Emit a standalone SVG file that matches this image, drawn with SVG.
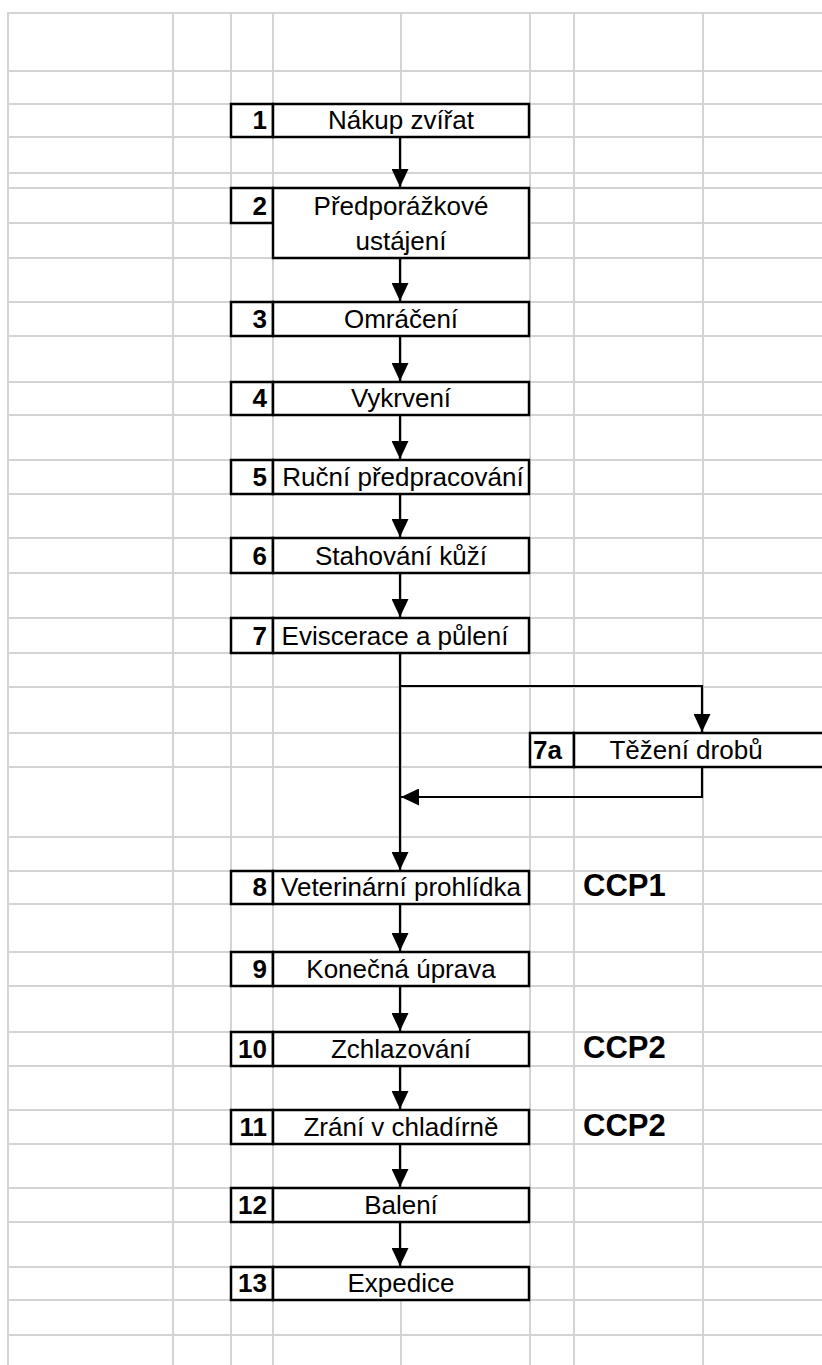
<svg xmlns="http://www.w3.org/2000/svg" width="822" height="1365" viewBox="0 0 822 1365">
<style>
.grid line{stroke:#d4d4d4;stroke-width:2}
.box{fill:#fff;stroke:#000;stroke-width:2.5}
.t{font-family:"Liberation Sans",Arial,sans-serif;font-size:26px;fill:#000;text-anchor:middle}
.n{font-family:"Liberation Sans",Arial,sans-serif;font-size:26px;font-weight:bold;fill:#000;text-anchor:end}
.ccp{font-family:"Liberation Sans",Arial,sans-serif;font-size:31px;font-weight:bold;fill:#000}
.conn path{fill:none;stroke:#000;stroke-width:2.2;marker-end:url(#ah)}
</style>
<defs>
<marker id="ah" markerUnits="userSpaceOnUse" markerWidth="18" markerHeight="17" viewBox="0 0 18 17" refX="18" refY="8.5" orient="auto">
<path d="M0,0 L18,8.5 L0,17 z" fill="#000"/>
</marker>
</defs>
<rect width="822" height="1365" fill="#fff"/>
<g class="grid">
<line x1="8" y1="13" x2="8" y2="1365"/>
<line x1="173" y1="13" x2="173" y2="1365"/>
<line x1="231" y1="13" x2="231" y2="1365"/>
<line x1="273" y1="13" x2="273" y2="1365"/>
<line x1="401" y1="13" x2="401" y2="1365"/>
<line x1="530" y1="13" x2="530" y2="1365"/>
<line x1="574" y1="13" x2="574" y2="1365"/>
<line x1="703" y1="13" x2="703" y2="1365"/>
<line x1="7" y1="13" x2="822" y2="13"/>
<line x1="7" y1="71" x2="822" y2="71"/>
<line x1="7" y1="104" x2="822" y2="104"/>
<line x1="7" y1="137" x2="822" y2="137"/>
<line x1="7" y1="173" x2="822" y2="173"/>
<line x1="7" y1="188" x2="822" y2="188"/>
<line x1="7" y1="223" x2="822" y2="223"/>
<line x1="7" y1="258" x2="822" y2="258"/>
<line x1="7" y1="302" x2="822" y2="302"/>
<line x1="7" y1="336" x2="822" y2="336"/>
<line x1="7" y1="382" x2="822" y2="382"/>
<line x1="7" y1="415" x2="822" y2="415"/>
<line x1="7" y1="460" x2="822" y2="460"/>
<line x1="7" y1="494" x2="822" y2="494"/>
<line x1="7" y1="538" x2="822" y2="538"/>
<line x1="7" y1="573" x2="822" y2="573"/>
<line x1="7" y1="618" x2="822" y2="618"/>
<line x1="7" y1="653" x2="822" y2="653"/>
<line x1="7" y1="687" x2="822" y2="687"/>
<line x1="7" y1="733" x2="822" y2="733"/>
<line x1="7" y1="767" x2="822" y2="767"/>
<line x1="7" y1="837" x2="822" y2="837"/>
<line x1="7" y1="871" x2="822" y2="871"/>
<line x1="7" y1="904" x2="822" y2="904"/>
<line x1="7" y1="952" x2="822" y2="952"/>
<line x1="7" y1="986" x2="822" y2="986"/>
<line x1="7" y1="1032" x2="822" y2="1032"/>
<line x1="7" y1="1066" x2="822" y2="1066"/>
<line x1="7" y1="1110" x2="822" y2="1110"/>
<line x1="7" y1="1144" x2="822" y2="1144"/>
<line x1="7" y1="1188" x2="822" y2="1188"/>
<line x1="7" y1="1222" x2="822" y2="1222"/>
<line x1="7" y1="1267" x2="822" y2="1267"/>
<line x1="7" y1="1300" x2="822" y2="1300"/>
<line x1="7" y1="1335" x2="822" y2="1335"/>
</g>
<g id="connectors" class="conn">
<path d="M400,137 V187"/>
<path d="M400,258 V301"/>
<path d="M400,336 V381"/>
<path d="M400,415 V459"/>
<path d="M400,494 V537"/>
<path d="M400,573 V617"/>
<path d="M400,653 V870"/>
<path d="M400,686 H702 V732"/>
<path d="M702,767 V797 H401"/>
<path d="M400,904 V951"/>
<path d="M400,986 V1031"/>
<path d="M400,1066 V1109"/>
<path d="M400,1144 V1187"/>
<path d="M400,1222 V1266"/>
</g>
<g id="node1"><rect class="box" x="231" y="104" width="42" height="33"/><rect class="box" x="273" y="104" width="256" height="33"/><text class="n" x="267" y="129">1</text><text class="t" x="401" y="129">Nákup zvířat</text></g>
<g id="node2"><rect class="box" x="231" y="188" width="42" height="35"/><rect class="box" x="273" y="188" width="256" height="70"/><text class="n" x="267" y="215">2</text><text class="t" x="401" y="215">Předporážkové</text><text class="t" x="401" y="250">ustájení</text></g>
<g id="node3"><rect class="box" x="231" y="302" width="42" height="34"/><rect class="box" x="273" y="302" width="256" height="34"/><text class="n" x="267" y="328">3</text><text class="t" x="401" y="328">Omráčení</text></g>
<g id="node4"><rect class="box" x="231" y="382" width="42" height="33"/><rect class="box" x="273" y="382" width="256" height="33"/><text class="n" x="267" y="407">4</text><text class="t" x="401" y="407">Vykrvení</text></g>
<g id="node5"><rect class="box" x="231" y="460" width="42" height="34"/><rect class="box" x="273" y="460" width="256" height="34"/><text class="n" x="267" y="486">5</text><text class="t" x="403" y="486">Ruční předpracování</text></g>
<g id="node6"><rect class="box" x="231" y="538" width="42" height="35"/><rect class="box" x="273" y="538" width="256" height="35"/><text class="n" x="267" y="565">6</text><text class="t" x="401" y="565">Stahování kůží</text></g>
<g id="node7"><rect class="box" x="231" y="618" width="42" height="35"/><rect class="box" x="273" y="618" width="256" height="35"/><text class="n" x="267" y="645">7</text><text class="t" x="395" y="645">Eviscerace a půlení</text></g>
<g id="node7a"><rect class="box" x="530" y="733" width="44" height="34"/><rect class="box" x="574" y="733" width="260" height="34"/><text class="n" x="533" y="759" style="text-anchor:start">7a</text><text class="t" x="686" y="759">Těžení drobů</text></g>
<g id="node8"><rect class="box" x="231" y="871" width="42" height="33"/><rect class="box" x="273" y="871" width="256" height="33"/><text class="n" x="267" y="896">8</text><text class="t" x="401" y="896">Veterinární prohlídka</text><text class="ccp" x="583" y="896">CCP1</text></g>
<g id="node9"><rect class="box" x="231" y="952" width="42" height="34"/><rect class="box" x="273" y="952" width="256" height="34"/><text class="n" x="267" y="978">9</text><text class="t" x="401" y="978">Konečná úprava</text></g>
<g id="node10"><rect class="box" x="231" y="1032" width="42" height="34"/><rect class="box" x="273" y="1032" width="256" height="34"/><text class="n" x="267" y="1058">10</text><text class="t" x="401" y="1058">Zchlazování</text><text class="ccp" x="583" y="1058">CCP2</text></g>
<g id="node11"><rect class="box" x="231" y="1110" width="42" height="34"/><rect class="box" x="273" y="1110" width="256" height="34"/><text class="n" x="267" y="1136">11</text><text class="t" x="401" y="1136">Zrání v chladírně</text><text class="ccp" x="583" y="1136">CCP2</text></g>
<g id="node12"><rect class="box" x="231" y="1188" width="42" height="34"/><rect class="box" x="273" y="1188" width="256" height="34"/><text class="n" x="267" y="1214">12</text><text class="t" x="401" y="1214">Balení</text></g>
<g id="node13"><rect class="box" x="231" y="1267" width="42" height="33"/><rect class="box" x="273" y="1267" width="256" height="33"/><text class="n" x="267" y="1292">13</text><text class="t" x="401" y="1292">Expedice</text></g>
</svg>
